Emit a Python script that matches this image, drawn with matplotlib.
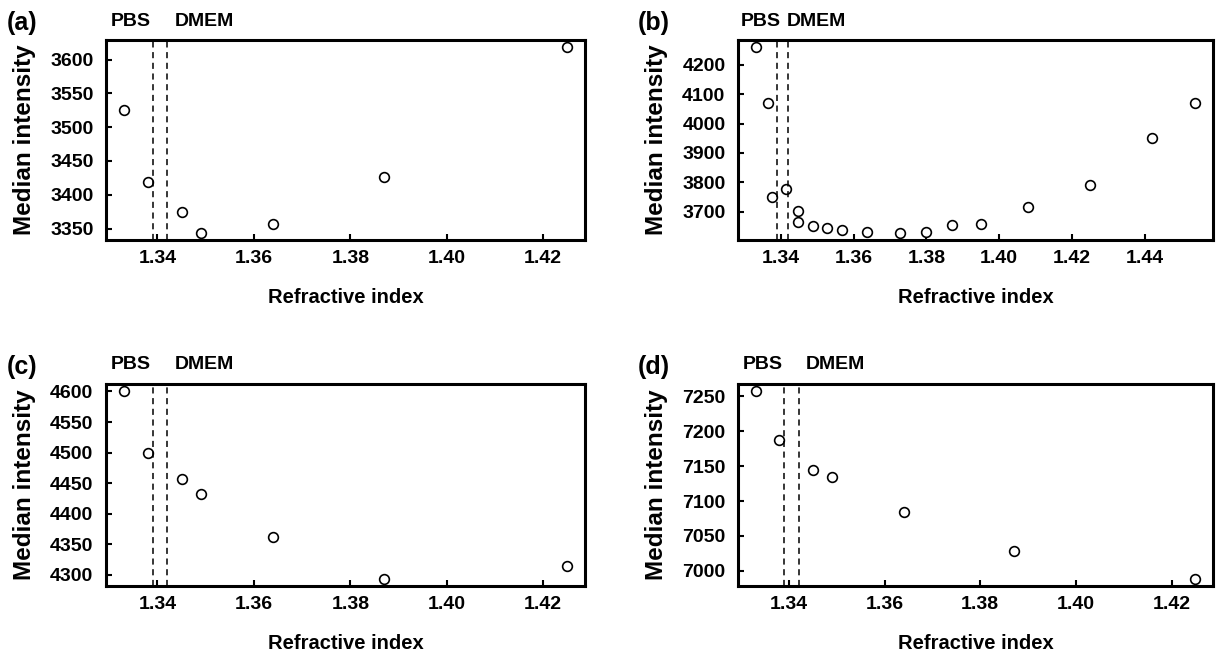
import matplotlib
matplotlib.use("Agg")
import matplotlib.pyplot as plt
import matplotlib.transforms as mtransforms

plt.rcParams["font.family"] = ["Liberation Sans", "DejaVu Sans"]
plt.rcParams["font.weight"] = "bold"

# Dades llegides del gràfic
ri_short = [1.333, 1.338, 1.345, 1.349, 1.364, 1.387, 1.425]
int_a = [3526, 3419, 3374, 3344, 3357, 3426, 3618]
int_c = [4600, 4499, 4456, 4432, 4362, 4294, 4314]
int_d = [7257, 7188, 7145, 7134, 7084, 7028, 6989]

ri_long = [1.333, 1.3365, 1.3375, 1.3415, 1.3447, 1.3447, 1.3487, 1.3527, 1.3567,
           1.3637, 1.3728, 1.3799, 1.387, 1.395, 1.408, 1.425, 1.442, 1.454]
int_b = [4259, 4069, 3750, 3776, 3701, 3666, 3653, 3646, 3638,
         3630, 3629, 3630, 3655, 3657, 3717, 3792, 3951, 4070]

# Índex de refracció dels medis
medium_names = ["PBS", "DMEM"]
medium_ri = [1.339, 1.342]
medium_label_x = [1.3345, 1.3497]

xticks_short = [1.34, 1.36, 1.38, 1.40, 1.42]
xticks_long = [1.34, 1.36, 1.38, 1.40, 1.42, 1.44]
yticks_a = [3350, 3400, 3450, 3500, 3550, 3600]
yticks_b = [3700, 3800, 3900, 4000, 4100, 4200]
yticks_c = [4300, 4350, 4400, 4450, 4500, 4550, 4600]
yticks_d = [7000, 7050, 7100, 7150, 7200, 7250]

panels = [
    ("(a)", ri_short, int_a, xticks_short, yticks_a),
    ("(b)", ri_long, int_b, xticks_long, yticks_b),
    ("(c)", ri_short, int_c, xticks_short, yticks_c),
    ("(d)", ri_short, int_d, xticks_short, yticks_d),
]

W, H = 1217, 654
fig = plt.figure(figsize=(W / 100, H / 100), dpi=100)

# posicions en píxels: (esquerra, dreta, dalt, baix)
boxes = [(106, 585, 40, 240), (738, 1213, 40, 240),
         (106, 585, 384, 586), (738, 1213, 384, 586)]

for (tag, xs, ys, xt, yt), (l, r, t, b) in zip(panels, boxes):
    ax = fig.add_axes([l / W, 1 - b / H, (r - l) / W, (b - t) / H])
    ax.plot(xs, ys, "o", mfc="white", mec="black", ms=7, mew=1.2, ls="none")
    ax.margins(x=0.04, y=0.04)
    for xv in medium_ri:
        ax.axvline(xv, color="black", lw=1.1, ls=(0, (4, 3)))
    trans = mtransforms.blended_transform_factory(ax.transData, ax.transAxes)
    for name, xv in zip(medium_names, medium_label_x):
        ax.text(xv, 1.095, name, transform=trans, ha="center", va="center",
                fontsize=14, fontweight="bold")
    ax.set_xticks(xt)
    ax.set_xticklabels([f"{v:.2f}" for v in xt])
    ax.set_yticks(yt)
    ax.tick_params(direction="in", length=4, width=1.5, labelsize=14, pad=7)
    ax.tick_params(axis="y", pad=9)
    for sp in ax.spines.values():
        sp.set_linewidth(2.2)
    ax.set_xlabel("Refractive index", fontsize=14.5, fontweight="bold", labelpad=15)
    ax.set_ylabel("Median intensity", fontsize=17.5, fontweight="bold", labelpad=10)
    fig.text((l - 84) / W, 1 - (t - 17) / H, tag, ha="center", va="center",
             fontsize=18, fontweight="bold")

fig.savefig("out.png", dpi=100)
